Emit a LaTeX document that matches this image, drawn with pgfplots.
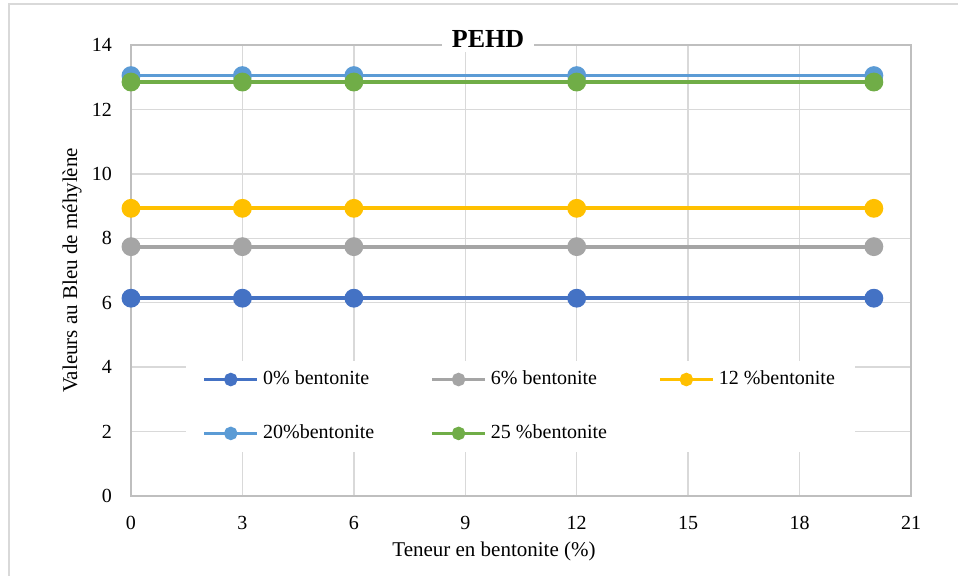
\documentclass[border=0pt]{standalone}
\usepackage{pgfplots}
\pgfplotsset{compat=1.18}
\usepackage{fontspec}
\setmainfont{Liberation Serif}
\definecolor{cA}{HTML}{4472C4}
\definecolor{cB}{HTML}{A5A5A5}
\definecolor{cC}{HTML}{FFC000}
\definecolor{cD}{HTML}{5B9BD5}
\definecolor{cE}{HTML}{70AD47}
\definecolor{gridc}{HTML}{D9D9D9}
\definecolor{axc}{HTML}{BFBFBF}
\begin{document}
\begin{tikzpicture}
\useasboundingbox (-65.5pt,-40pt) rectangle (413.5pt,248pt);
\draw[gridc, line width=0.75pt] (-61pt,-40pt) -- (-61pt,246pt) -- (413.5pt,246pt);
\begin{axis}[
  scale only axis,
  width=390pt, height=225.5pt,
  xmin=0, xmax=21, ymin=0, ymax=14,
  xtick={0,3,...,21}, ytick={0,2,...,14},
  major tick length=0pt,
  grid=major,
  grid style={draw=gridc, line width=0.75pt},
  axis line style={draw=axc, line width=0.75pt},
  /pgf/number format/assume math mode=true,
  tick label style={font=\fontsize{10}{12}\selectfont},
  xticklabel style={yshift=-6.5pt},
  yticklabel style={xshift=-6pt},
  xlabel={Teneur en bentonite (\%)},
  ylabel={Valeurs au Bleu de méhylène},
  label style={font=\fontsize{10.5}{12}\selectfont},
  xlabel style={at={(axis description cs:0.4654,0)}, anchor=center, yshift=-27.5pt},
  ylabel style={at={(axis description cs:-0.0756,0.5)}, anchor=center},
  title={PEHD},
  title style={at={(axis description cs:0.4577,1)}, anchor=center, yshift=-3pt, fill=white, inner xsep=5pt, inner ysep=2pt, font=\bfseries\fontsize{13}{16}\selectfont},
  every axis plot/.append style={line width=1.9pt, mark=*, mark size=3.75pt},
  legend image code/.code={\draw[#1, mark size=2.4pt, mark repeat=2, mark phase=2] plot coordinates {(0pt,0pt) (13.25pt,0pt) (26.5pt,0pt)};},
  legend columns=3,
  legend style={draw=none, fill=white, at={(rel axis cs:0.0705,0.3)}, anchor=north west,
    font=\fontsize{10}{12}\selectfont, row sep=14.5pt, inner xsep=8pt, inner ysep=3pt,
    /tikz/every odd column/.append style={column sep=0pt},
    /tikz/every even column/.append style={column sep=0pt}},
  legend cell align=left,
]
\addplot[cA, mark options={fill=cA}] coordinates {(0,6.14) (3,6.14) (6,6.14) (12,6.14) (20,6.14)};
\addlegendentry{\makebox[81.5pt][l]{0\% bentonite}}
\addplot[cB, mark options={fill=cB}] coordinates {(0,7.74) (3,7.74) (6,7.74) (12,7.74) (20,7.74)};
\addlegendentry{\makebox[81.5pt][l]{6\% bentonite}}
\addplot[cC, mark options={fill=cC}] coordinates {(0,8.93) (3,8.93) (6,8.93) (12,8.93) (20,8.93)};
\addlegendentry{12 \%bentonite}
\addplot[cD, mark options={fill=cD}] coordinates {(0,13.05) (3,13.05) (6,13.05) (12,13.05) (20,13.05)};
\addlegendentry{\makebox[81.5pt][l]{20\%bentonite}}
\addplot[cE, mark options={fill=cE}] coordinates {(0,12.85) (3,12.85) (6,12.85) (12,12.85) (20,12.85)};
\addlegendentry{\makebox[81.5pt][l]{25 \%bentonite}}
\end{axis}
\end{tikzpicture}
\end{document}
